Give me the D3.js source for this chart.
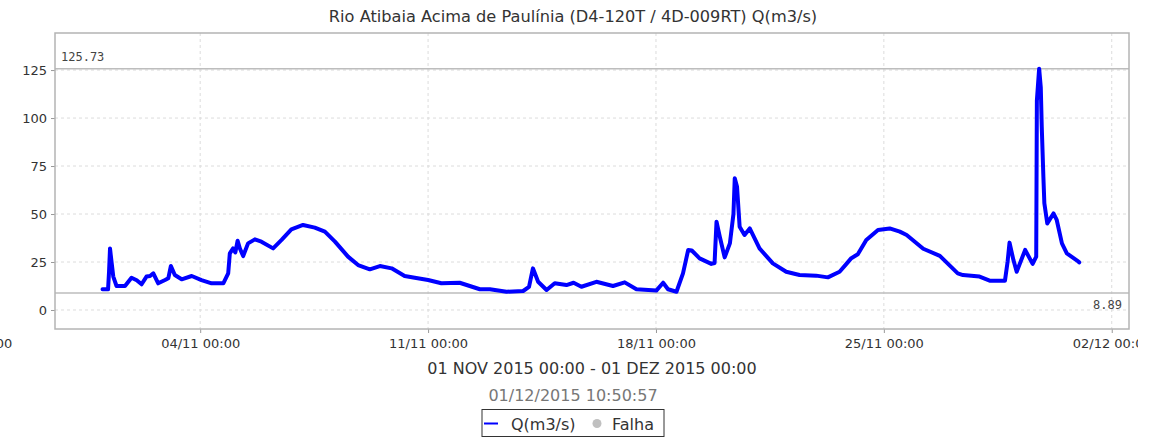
<!DOCTYPE html>
<html>
<head>
<meta charset="utf-8">
<script src="https://cdn.jsdelivr.net/npm/d3@7"></script>
<style>
  body { margin: 0; background: #fff; }
  svg { display: block; font-family: "DejaVu Sans", sans-serif; }
  .tick-label { font-family: "DejaVu Sans", sans-serif; font-size: 13px; fill: #333; }
  .grid line { stroke: #dcdcdc; stroke-dasharray: 3,3; }
  .marker-label { font-family: "DejaVu Sans Mono", monospace; font-size: 12px; fill: #444; }
</style>
</head>
<body>
<div id="flowChart"></div>
<script>
// chart data (days since 01/11/2015 00:00, flow m3/s)
const dayOffsets = [
  0.00, 0.17, 0.20, 0.23, 0.27, 0.33, 0.43, 0.69, 0.89, 1.05, 1.20, 1.35, 1.46, 1.56, 1.71, 1.92,
  2.02, 2.10, 2.22, 2.43, 2.74, 3.04, 3.35, 3.71, 3.86, 3.91, 4.01, 4.08, 4.15, 4.22, 4.32, 4.47,
  4.68, 4.88, 5.24, 5.50, 5.80, 6.16, 6.52, 6.83, 7.14, 7.54, 7.85, 8.21, 8.52, 8.88, 9.28, 9.59,
  10.00, 10.41, 10.97, 11.59, 11.90, 12.41, 12.92, 13.10, 13.22, 13.38, 13.64, 13.89, 14.25, 14.47,
  14.71, 15.17, 15.68, 16.04, 16.40, 17.01, 17.22, 17.37, 17.63, 17.83, 17.99, 18.10, 18.34, 18.70,
  18.80, 18.86, 18.96, 19.11, 19.27, 19.38, 19.42, 19.49, 19.57, 19.72, 19.88, 20.18, 20.59, 21.00,
  21.41, 21.92, 22.28, 22.64, 22.85, 23.00, 23.20, 23.46, 23.82, 24.18, 24.49, 24.70, 25.21, 25.72,
  26.27, 26.43, 26.94, 27.25, 27.72, 27.80, 27.86, 27.98, 28.08, 28.34, 28.57, 28.68, 28.70, 28.77,
  28.82, 28.85, 28.90, 28.93, 29.02, 29.21, 29.31, 29.47, 29.62, 29.98, 30.00
];
const flowValues = [
  10.8, 10.8, 20.0, 32.1, 26.0, 17.4, 12.5, 12.5, 16.8, 15.5, 13.4, 17.4, 17.7, 19.1, 13.9, 15.6,
  16.5, 22.9, 18.2, 16.0, 17.7, 15.6, 13.9, 13.9, 19.1, 29.5, 32.1, 30.0, 36.1, 32.0, 28.1, 34.7,
  36.8, 35.6, 32.1, 36.5, 42.0, 44.3, 42.9, 40.8, 35.6, 27.8, 23.4, 21.2, 22.9, 21.7, 17.7, 16.8,
  15.6, 13.9, 14.2, 10.8, 10.8, 9.5, 9.9, 12.0, 21.7, 14.7, 10.4, 13.9, 13.0, 14.2,
  12.1, 14.7, 12.5, 14.4, 10.8, 10.1, 14.2, 10.8, 9.5, 19.1, 31.3, 31.0, 26.9, 24.0,
  24.5, 46.0, 38.2, 27.4, 34.7, 50.0, 68.6, 64.2, 43.4, 39.1, 42.5, 32.1, 24.3, 19.9,
  18.2, 17.9, 17.0, 19.9, 24.0, 27.0, 29.0, 36.5, 41.7, 42.5, 40.8, 39.1, 31.9, 28.2,
  19.1, 18.2, 17.4, 15.3, 15.3, 25.0, 35.1, 26.0, 19.9, 31.3, 24.0, 27.8, 109.0, 125.7,
  116.0, 95.5, 69.4, 55.6, 45.1, 50.3, 46.9, 34.7, 29.5, 25.2, 24.8
];
const yTickValues = [0, 25, 50, 75, 100, 125];
const xTickLabels = ['28/10 00:00', '04/11 00:00', '11/11 00:00', '18/11 00:00', '25/11 00:00', '02/12 00:00'];
const xTickDays = [-4, 3, 10, 17, 24, 31];
const markerValues = [125.73, 8.89];

// chart static params
const chart_title = 'Rio Atibaia Acima de Paulínia (D4-120T / 4D-009RT) Q(m3/s)';
const chart_xLabel = '01 NOV 2015 00:00 - 01 DEZ 2015 00:00';
const chart_stamp = '01/12/2015 10:50:57';
const start_ms = Date.UTC(2015, 10, 1);
const dayToDate = d => new Date(start_ms + d * 86400000);

const width_total = 1138, height_total = 441;
const margin = {top: 33, right: width_total - 1129, bottom: height_total - 329, left: 55},
    width_plot = width_total - margin.left - margin.right,
    height_plot = height_total - margin.top - margin.bottom;

const flowData = dayOffsets.map((d, i) => ({date: dayToDate(d), value: flowValues[i]}));

// set scales
const xScale = d3.scaleUtc()
  .domain([dayToDate(-1.46), dayToDate(31.53)])
  .range([0, width_plot]);

const yScale = d3.scaleLinear()
  .domain([-9.9, 144.3])
  .range([height_plot, 0]);

const svg = d3.select('#flowChart')
  .append('svg')
    .attr('width', width_total)
    .attr('height', height_total);

const plot = svg.append('g')
  .attr('transform', `translate(${margin.left},${margin.top})`);

// title
svg.append('text')
  .attr('x', 573).attr('y', 22)
  .attr('text-anchor', 'middle')
  .style('font-size', '16.2px').style('fill', '#333')
  .text(chart_title);

// grids
const inRange = xTickDays.filter(d => d > -1.46 && d < 31.53);
plot.append('g').attr('class', 'grid')
  .selectAll('line').data(yTickValues).join('line')
    .attr('x1', 0).attr('x2', width_plot)
    .attr('y1', d => yScale(d)).attr('y2', d => yScale(d));
plot.append('g').attr('class', 'grid')
  .selectAll('line').data(inRange).join('line')
    .attr('x1', d => xScale(dayToDate(d))).attr('x2', d => xScale(dayToDate(d)))
    .attr('y1', 0).attr('y2', height_plot);

// marker lines
plot.selectAll('.marker').data(markerValues).join('line')
  .attr('class', 'marker')
  .attr('x1', 0).attr('x2', width_plot)
  .attr('y1', d => yScale(d)).attr('y2', d => yScale(d))
  .attr('stroke', '#bdbdbd').attr('stroke-width', 1.5);

plot.append('text').attr('class', 'marker-label')
  .attr('x', 6).attr('y', yScale(markerValues[0]) - 8)
  .text(markerValues[0].toFixed(2));
plot.append('text').attr('class', 'marker-label')
  .attr('x', width_plot - 7).attr('y', yScale(markerValues[1]) + 16)
  .attr('text-anchor', 'end')
  .text(markerValues[1].toFixed(2));

// axes
const yAxis = plot.append('g')
  .call(d3.axisLeft(yScale).tickValues(yTickValues).tickSize(4).tickPadding(4));
const xAxis = plot.append('g')
  .attr('transform', `translate(0,${height_plot})`)
  .call(d3.axisBottom(xScale)
    .tickValues(xTickDays.map(dayToDate))
    .tickFormat((d, i) => xTickLabels[i])
    .tickSize(4).tickPadding(6));

[xAxis, yAxis].forEach(a => {
  a.attr('font-family', null).attr('font-size', null);
  a.select('.domain').remove();
  a.selectAll('.tick line').attr('stroke', '#999');
  a.selectAll('.tick text').attr('class', 'tick-label').attr('fill', null);
});

// plot border
plot.append('rect')
  .attr('width', width_plot).attr('height', height_plot)
  .attr('fill', 'none').attr('stroke', '#b4b4b4').attr('stroke-width', 1.5);

// flow line
const line = d3.line()
  .x(d => xScale(d.date))
  .y(d => yScale(d.value));

plot.append('path')
  .datum(flowData)
  .attr('fill', 'none')
  .attr('stroke', '#0000ff')
  .attr('stroke-width', 4)
  .attr('stroke-linejoin', 'round')
  .attr('stroke-linecap', 'round')
  .attr('d', line);

// bottom label and timestamp
svg.append('text')
  .attr('x', margin.left + width_plot / 2).attr('y', 374)
  .attr('text-anchor', 'middle')
  .style('font-size', '16px').style('fill', '#333')
  .text(chart_xLabel);

svg.append('text')
  .attr('x', 573).attr('y', 401)
  .attr('text-anchor', 'middle')
  .style('font-size', '16px').style('fill', '#777')
  .text(chart_stamp);

// legend
const legend = svg.append('g').attr('transform', 'translate(482,409.5)');
legend.append('rect')
  .attr('width', 182).attr('height', 27)
  .attr('fill', '#fff').attr('stroke', '#333').attr('stroke-width', 1);
legend.append('line')
  .attr('x1', 2).attr('x2', 16).attr('y1', 14).attr('y2', 14)
  .attr('stroke', '#0000ff').attr('stroke-width', 2);
legend.append('text')
  .attr('x', 29).attr('y', 20)
  .style('font-size', '16px').style('fill', '#333')
  .text('Q(m3/s)');
legend.append('circle')
  .attr('cx', 115).attr('cy', 14).attr('r', 4.5)
  .attr('fill', '#c0c0c0');
legend.append('text')
  .attr('x', 130).attr('y', 20)
  .style('font-size', '16px').style('fill', '#333')
  .text('Falha');
</script>
</body>
</html>
